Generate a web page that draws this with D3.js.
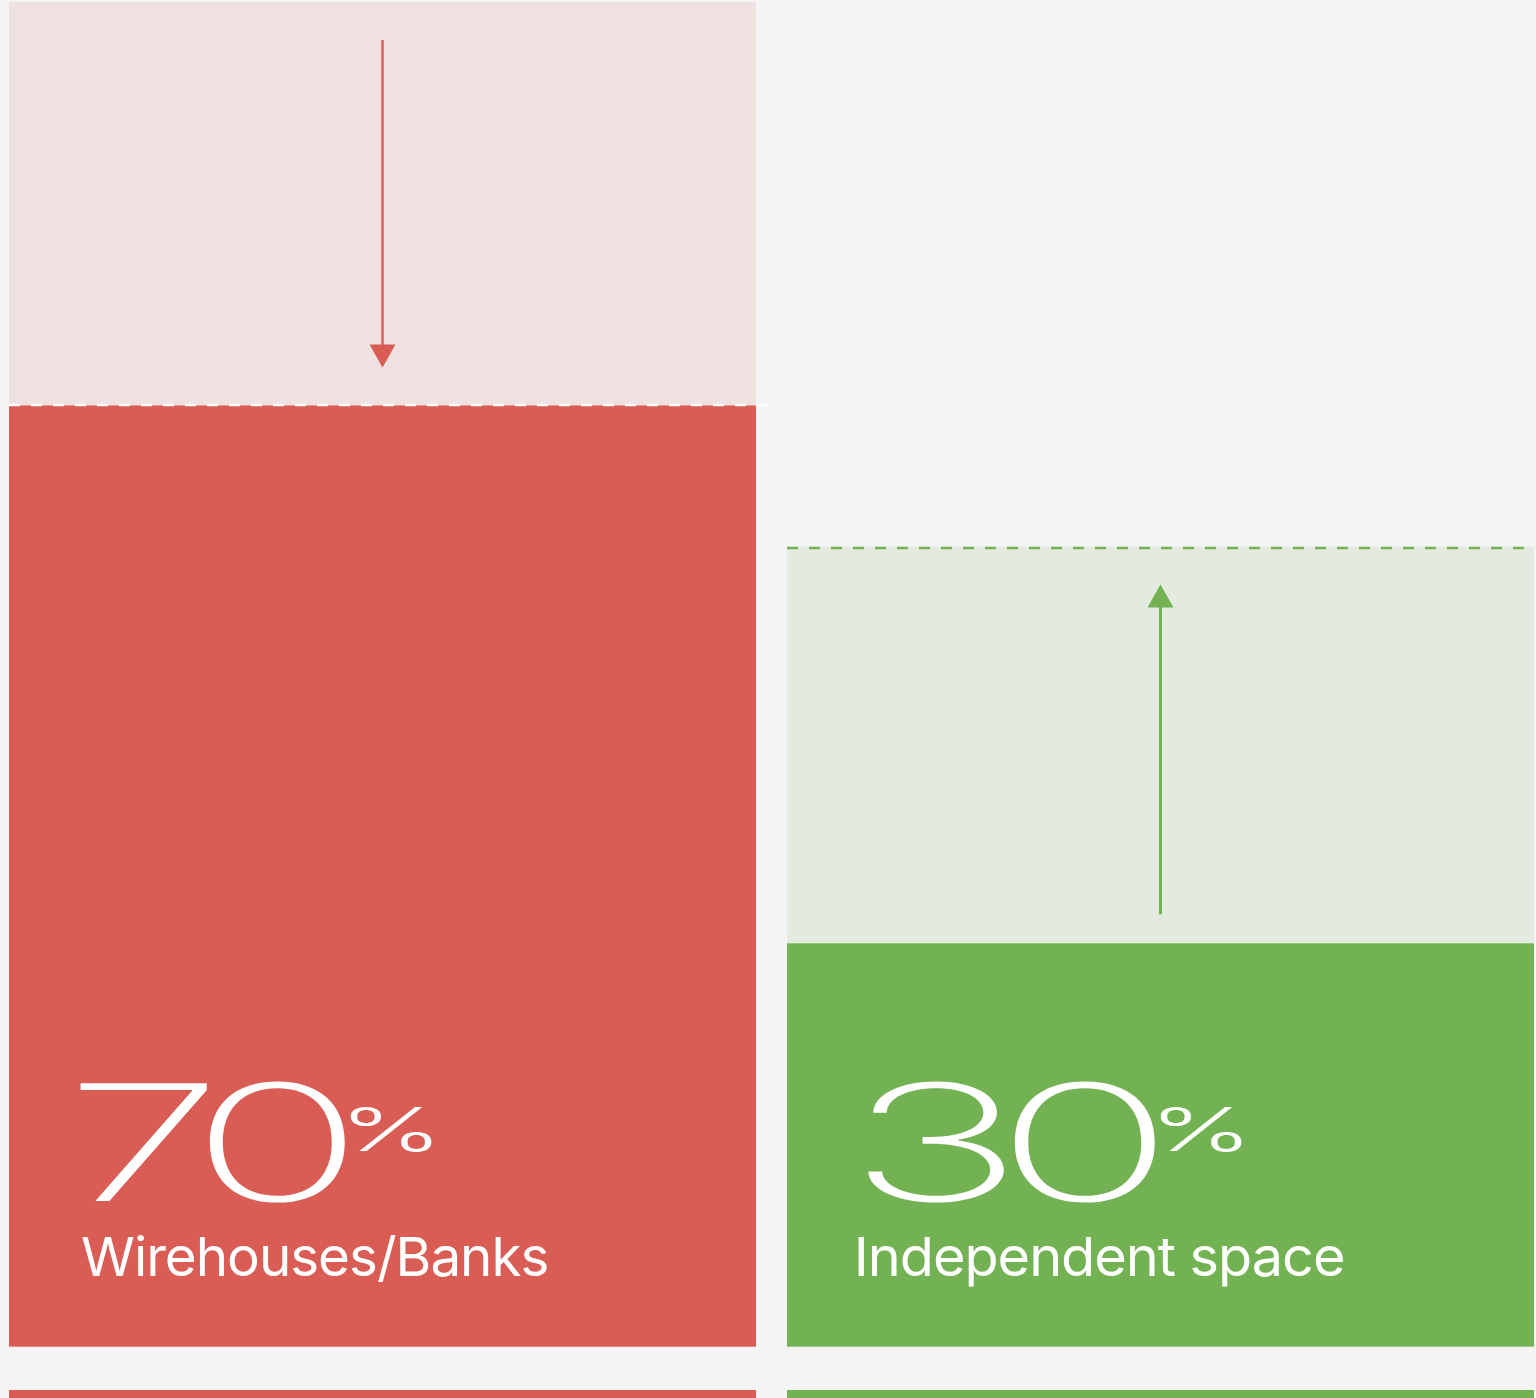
<!DOCTYPE html>
<html>
<head>
<meta charset="utf-8">
<script src="https://cdn.jsdelivr.net/npm/d3@7"></script>
<style>
  html, body { margin: 0; padding: 0; background: #f4f4f4; overflow: hidden; }
  svg { display: block; }
</style>
</head>
<body>
<svg id="chart" width="1536" height="1398"></svg>
<script>
// ---- data ----
const categories = ["Wirehouses/Banks", "Independent space"];
const currentShare = [70, 30];        // %
const projectedShare = [100, 59.5];   // % (ghost extent)
const direction = ["down", "up"];
const valueLabels = ["70", "30"];

// ---- style ----
const W = 1536, H = 1398;
const strong = ["#d95c55", "#73b253"];
const light = ["#f0e1e1", "#e3eadf"];
const dashColor = ["#ffffff", "#73b253"];

const svg = d3.select("#chart");
svg.append("rect").attr("width", W).attr("height", H).attr("fill", "#f4f4f4");

const x = d3.scaleBand().domain(categories).range([9, 1534]).paddingInner(31 / 778).paddingOuter(0);
const y = d3.scaleLinear().domain([0, 100]).range([1346.7, 2]);

const data = categories.map((c, i) => ({
  c, i, cur: currentShare[i], proj: projectedShare[i], dir: direction[i], label: valueLabels[i]
}));

const g = svg.selectAll("g.panel").data(data).join("g").attr("class", "panel");

// ghost (projected) area
g.append("rect")
  .attr("x", d => x(d.c))
  .attr("width", x.bandwidth())
  .attr("y", d => y(Math.max(d.cur, d.proj)))
  .attr("height", d => y(Math.min(d.cur, d.proj)) - y(Math.max(d.cur, d.proj)))
  .attr("fill", d => light[d.i]);

// current bar
g.append("rect")
  .attr("x", d => x(d.c))
  .attr("width", x.bandwidth())
  .attr("y", d => y(d.cur))
  .attr("height", d => y(0) - y(d.cur))
  .attr("fill", d => strong[d.i]);

// dashed line at the boundary
g.append("line")
  .attr("x1", d => x(d.c))
  .attr("x2", d => x(d.c) + x.bandwidth() + (d.dir === "down" ? 13 : 0))
  .attr("y1", d => d.dir === "down" ? y(d.cur) - 0.5 : y(d.proj) + 1.5)
  .attr("y2", d => d.dir === "down" ? y(d.cur) - 0.5 : y(d.proj) + 1.5)
  .attr("stroke", d => dashColor[d.i])
  .attr("stroke-width", 2.5)
  .attr("stroke-dasharray", "11,11");

// arrows
const tipGap = 38;
g.each(function(d) {
  const sel = d3.select(this);
  const cx = x(d.c) + x.bandwidth() / 2;
  const col = strong[d.i];
  if (d.dir === "down") {
    const y0 = y(d.proj) + 38, tip = y(d.cur) - tipGap;
    sel.append("line").attr("x1", cx).attr("x2", cx).attr("y1", y0).attr("y2", tip - 10)
      .attr("stroke", col).attr("stroke-width", 2.4);
    sel.append("path")
      .attr("d", `M${cx - 13},${tip - 23} L${cx + 13},${tip - 23} L${cx},${tip} Z`)
      .attr("fill", col);
  } else {
    const y0 = y(d.cur) - 29, tip = y(d.proj) + tipGap;
    sel.append("line").attr("x1", cx).attr("x2", cx).attr("y1", y0).attr("y2", tip + 10)
      .attr("stroke", col).attr("stroke-width", 3);
    sel.append("path")
      .attr("d", `M${cx - 13},${tip + 23} L${cx + 13},${tip + 23} L${cx},${tip} Z`)
      .attr("fill", col);
  }
});

// horizontally stretched text: fits the glyph ink to a target left edge and width
const numFont = "Inter, 'Open Sans', 'Liberation Sans', sans-serif";
function stretched(sel, txt, py, size, weight, targetLeft, targetWidth, spacing) {
  spacing = spacing || 0;
  const t = sel.append("text")
    .attr("font-family", numFont)
    .attr("font-weight", weight)
    .attr("font-size", size)
    .attr("letter-spacing", spacing)
    .attr("fill", "#fff")
    .text(txt);
  const ctx = document.createElement("canvas").getContext("2d");
  ctx.font = `${weight} ${size}px Inter`;
  let inkL, inkR;
  if ("letterSpacing" in ctx) {
    ctx.letterSpacing = spacing + "px";
    const m = ctx.measureText(txt);
    inkL = -m.actualBoundingBoxLeft; inkR = m.actualBoundingBoxRight;
  } else {
    const m = ctx.measureText(txt);
    inkL = -m.actualBoundingBoxLeft;
    inkR = m.actualBoundingBoxRight + spacing * (txt.length - 1);
  }
  const inkW = inkR - inkL;
  const sx = targetWidth / inkW;
  t.attr("transform", `translate(${targetLeft - inkL * sx},${py}) scale(${sx},1)`);
  return t;
}

g.each(function(d) {
  const sel = d3.select(this);
  const x0 = x(d.c);
  if (d.i === 0) {
    stretched(sel, d.label, 1201, 162, 250, x0 + 71, 265, -16);
    stretched(sel, "%", 1151, 61, 300, x0 + 341, 82);
    stretched(sel, d.c, 1276, 54, 400, x0 + 73, 465, -1);
  } else {
    stretched(sel, d.label, 1201, 162, 250, x0 + 80, 288, -16);
    stretched(sel, "%", 1151, 61, 300, x0 + 373, 82);
    stretched(sel, d.c, 1276, 54, 400, x0 + 71, 485, -1);
  }
});

// start of the next row (cut by the frame)
g.append("rect")
  .attr("x", d => x(d.c))
  .attr("width", x.bandwidth())
  .attr("y", 1390)
  .attr("height", 20)
  .attr("fill", d => strong[d.i]);
</script>
</body>
</html>
